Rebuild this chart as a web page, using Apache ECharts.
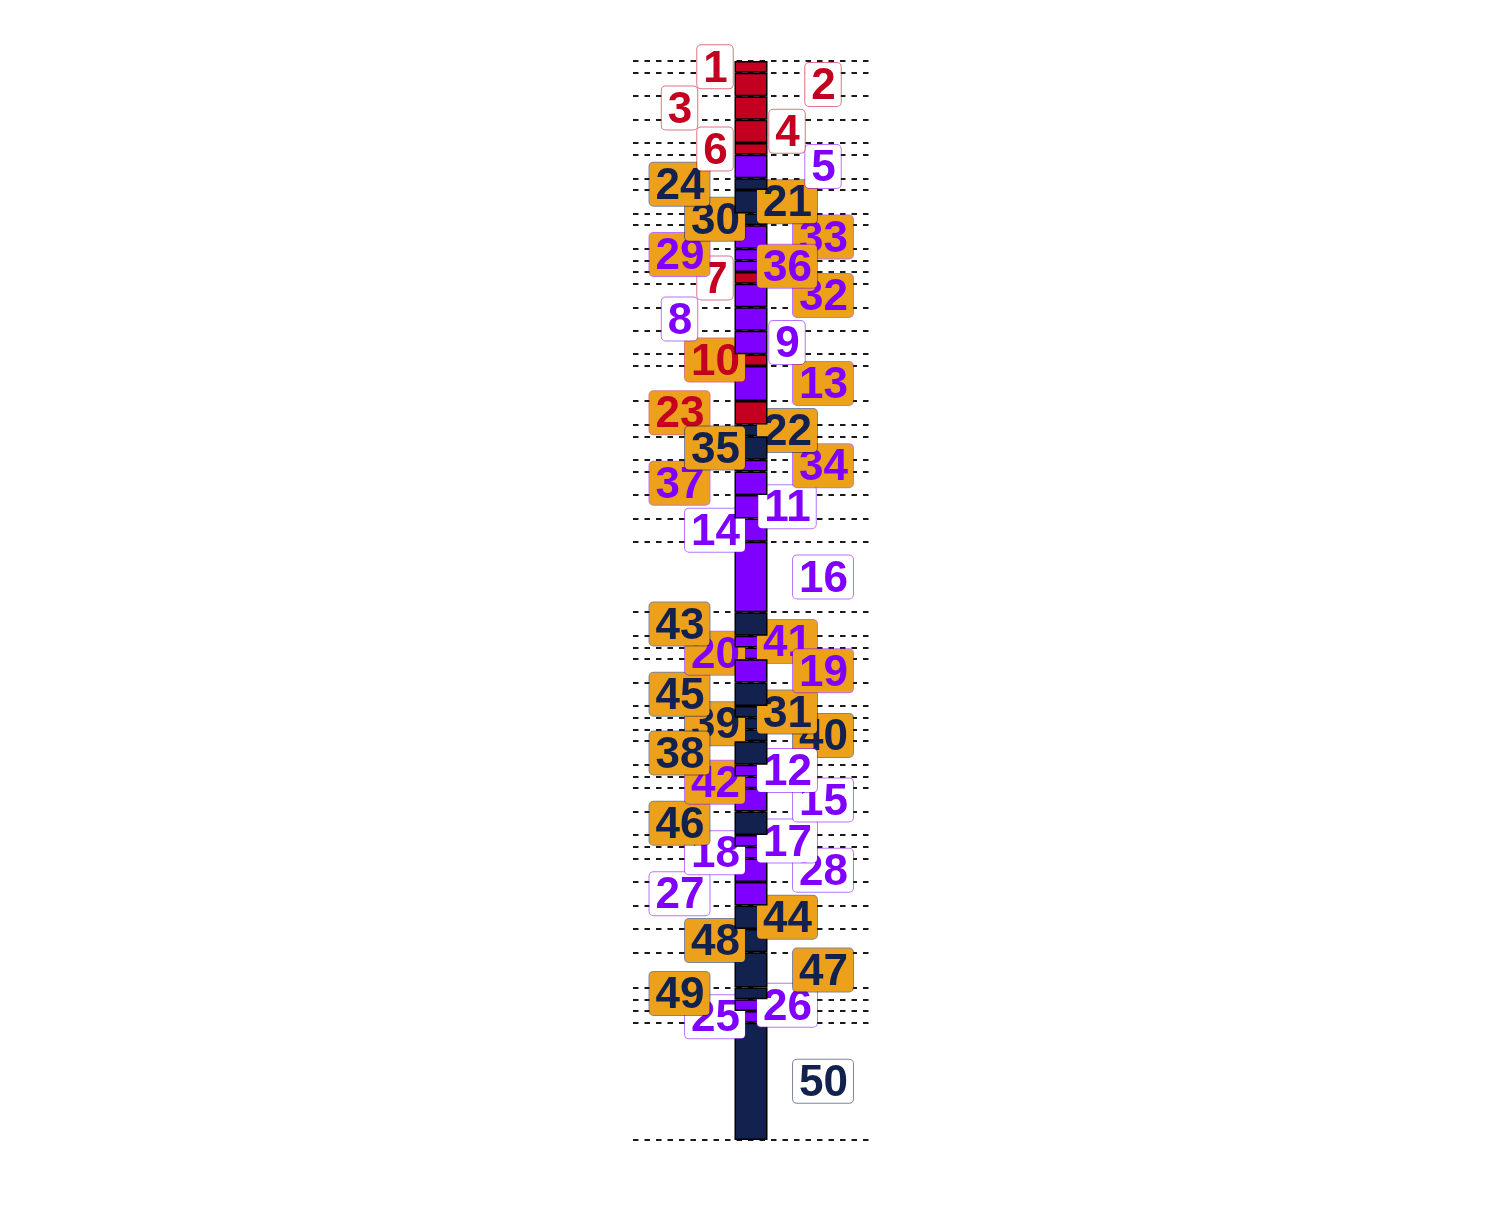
<!DOCTYPE html>
<html>
<head>
<meta charset="utf-8">
<script src="https://cdn.jsdelivr.net/npm/echarts@6/dist/echarts.min.js"></script>
<style>
html,body{margin:0;padding:0;background:#fff;}
#chart{width:1500px;height:1205px;}
</style>
</head>
<body>
<div id="chart"></div>
<script>
// Segment heights, top to bottom
const heights = [1,2,2,2,1,2,1,2,1,2,1,1,1,2,2,2,1,3,2,1,2,1,2,2,2,6,2,1,1,2,2,1,1,1,2,1,1,2,2,1,1,2,2,2,2,3,1,1,1,10];
// Label number for each segment
const labelNums = [1,2,3,4,6,5,24,21,30,33,29,36,7,32,8,9,10,13,23,22,35,34,37,11,14,16,43,41,20,19,45,31,39,40,38,12,42,15,46,17,18,28,27,44,48,47,49,26,25,50];
// Group of each segment: R = red, P = purple, N = navy
const groups = ["R","R","R","R","R","P","N","N","N","P","P","P","R","P","P","P","R","P","R","N","N","P","P","P","P","P","N","P","P","P","N","N","N","N","N","P","P","P","N","P","P","P","P","N","N","N","N","P","P","N"];
// Highlighted (orange label) segments
const highlighted = [0,0,0,0,0,0,1,1,1,1,1,1,0,1,0,0,1,1,1,1,1,1,1,0,0,0,1,1,1,1,1,1,1,1,1,0,1,0,1,0,0,0,0,1,1,1,1,0,0,0];

const groupColors = {R:'#C3001F', P:'#8000FF', N:'#13214F'};
const orange = '#EDA11B';
const colOffsets = [-36, 72, -71.5, 36];

function alpha(hex, a){
  const r=parseInt(hex.slice(1,3),16), g=parseInt(hex.slice(3,5),16), b=parseInt(hex.slice(5,7),16);
  return 'rgba('+r+','+g+','+b+','+a+')';
}

// drawing order of labels: earlier segments on top, with a few swaps
const zRank = heights.map((_, i) => 200 - i * 2);
[[11,9],[20,18],[29,27],[34,32],[35,33]].forEach(([a,b]) => { zRank[a] = zRank[b] + 1; });

const bounds = [0];
heights.forEach(h => bounds.push(bounds[bounds.length-1] + h));
const total = bounds[bounds.length-1];

const series = heights.map((h, i) => {
  const c = groupColors[groups[i]];
  const hl = highlighted[i] === 1;
  return {
    type: 'bar',
    stack: 'all',
    barWidth: 33,
    z: zRank[i],
    data: [h],
    itemStyle: {color: c, borderColor: '#000', borderWidth: 1.5},
    label: {
      show: true,
      position: 'inside',
      align: 'center',
      verticalAlign: 'top',
      offset: [colOffsets[i % 4], -21.5],
      formatter: String(labelNums[i]),
      color: c,
      fontFamily: '"Liberation Sans", Arial, sans-serif',
      fontWeight: 'bold',
      fontSize: 44,
      lineHeight: 38,
      padding: [5, 5, 0, 6],
      backgroundColor: hl ? orange : '#ffffff',
      borderColor: alpha(c, 0.55),
      borderWidth: 1,
      borderRadius: 4
    },
    emphasis: {disabled: true},
    animation: false
  };
});

series.unshift({
  type: 'line',
  data: [],
  z: 1,
  silent: true,
  animation: false,
  markLine: {
    z: 1,
    silent: true,
    symbol: ['none','none'],
    label: {show: false},
    animation: false,
    lineStyle: {color: '#1a1a1a', width: 1.8, type: [5.5, 6]},
    data: bounds.map(v => ({yAxis: v}))
  }
});

const chart = echarts.init(document.getElementById('chart'), null, {renderer: 'canvas'});
chart.setOption({
  animation: false,
  grid: {left: 633, top: 61, width: 236, height: 1079},
  xAxis: {type: 'category', data: [''], show: false},
  yAxis: {type: 'value', inverse: true, min: 0, max: total, show: false},
  series: series
});
</script>
</body>
</html>
